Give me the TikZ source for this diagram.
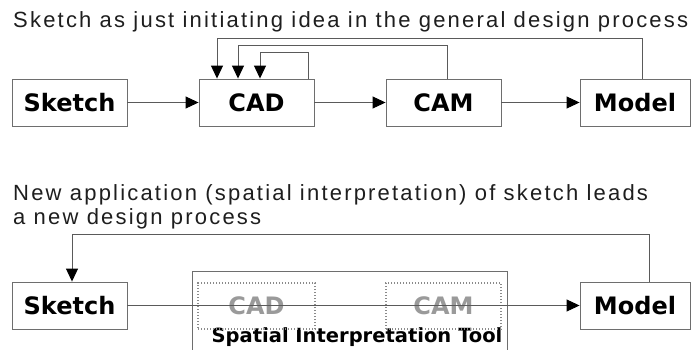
\documentclass[tikz,border=0pt]{standalone}
\usepackage{fontspec}
\setmainfont{Liberation Sans}
\newfontfamily\titlefont{Liberation Sans}[LetterSpace=10]
\newfontfamily\boxfont{DejaVu Sans}
\usetikzlibrary{arrows.meta}

\definecolor{boxgray}{HTML}{6E6E6E}
\definecolor{linegray}{HTML}{5A5A5A}
\definecolor{ghostgray}{HTML}{8A8A8A}
\definecolor{ghosttext}{HTML}{9A9A9A}
\definecolor{titlegray}{HTML}{1E1E1E}

\tikzset{
  stagebox/.style={draw=boxgray, line width=0.9pt, minimum width=115pt,
    minimum height=47pt, inner sep=0pt, text=black,
    font=\boxfont\bfseries\fontsize{24}{24}\selectfont},
  ghostbox/.style={draw=ghostgray, line width=1.2pt,
    dash pattern=on 1.2pt off 1.8pt, minimum width=117pt,
    minimum height=46pt, inner sep=0pt, text=ghosttext,
    font=\boxfont\bfseries\fontsize{24}{24}\selectfont},
  link/.style={draw=linegray, line width=1pt,
    -{Triangle[length=13pt,width=12pt,color=black]}},
  heading/.style={anchor=base west, inner sep=0pt, text=titlegray,
    font=\titlefont\fontsize{22}{26}\selectfont},
}

\begin{document}
\begin{tikzpicture}[x=1pt, y=-1pt]
  \useasboundingbox (0,0) rectangle (691,349);
  \fill[white] (0,0) rectangle (691,349);

  % ---- general design process ----
  \node[heading] (title1) at (13,27) {Sketch as just initiating idea in the general design process};

  \node[stagebox] (sk1)  at (69.5,102.5)  {Sketch};
  \node[stagebox] (cad1) at (256.5,102.5) {CAD};
  \node[stagebox] (cam1) at (443.5,102.5) {CAM};
  \node[stagebox, minimum width=110pt] (mod1) at (635,102.5) {Model};

  \draw[link] (sk1) -- (cad1);
  \draw[link] (cad1) -- (cam1);
  \draw[link] (cam1) -- (mod1);

  % feedback loops into CAD
  \draw[link] ([xshift=7pt]mod1.north) -- ++(0,-40) -| ([xshift=-39.5pt]cad1.north);
  \draw[link] ([xshift=3.5pt]cam1.north) -- ++(0,-33) -| ([xshift=-18.5pt]cad1.north);
  \draw[link] ([xshift=51.5pt]cad1.north) -- ++(0,-26) -| ([xshift=3.5pt]cad1.north);

  % ---- spatial interpretation process ----
  \node[heading] (title2a) at (13,200) {New application (spatial interpretation) of sketch leads};
  \node[heading] (title2b) at (13,224) {a new design process};

  \node[draw=boxgray, line width=0.9pt, minimum width=315pt, minimum height=95pt,
        inner sep=0pt] (sit) at (349.5,318.5) {};
  \node[anchor=base, inner sep=0pt, text=black,
        font=\boxfont\bfseries\fontsize{19.5}{20}\selectfont] (sitlabel) at (357,342)
        {Spatial Interpretation Tool};

  \node[ghostbox] (cad2) at (256.5,306) {CAD};
  \node[ghostbox, minimum width=115pt] (cam2) at (443.5,306) {CAM};

  \node[stagebox] (sk2) at (69.5,305.5) {Sketch};
  \node[stagebox, minimum width=110pt] (mod2) at (635,305.5) {Model};

  \draw[link] (sk2) -- (mod2);
  \draw[link] ([xshift=14pt]mod2.north) -- ++(0,-47) -| ([xshift=2.5pt]sk2.north);
\end{tikzpicture}
\end{document}
